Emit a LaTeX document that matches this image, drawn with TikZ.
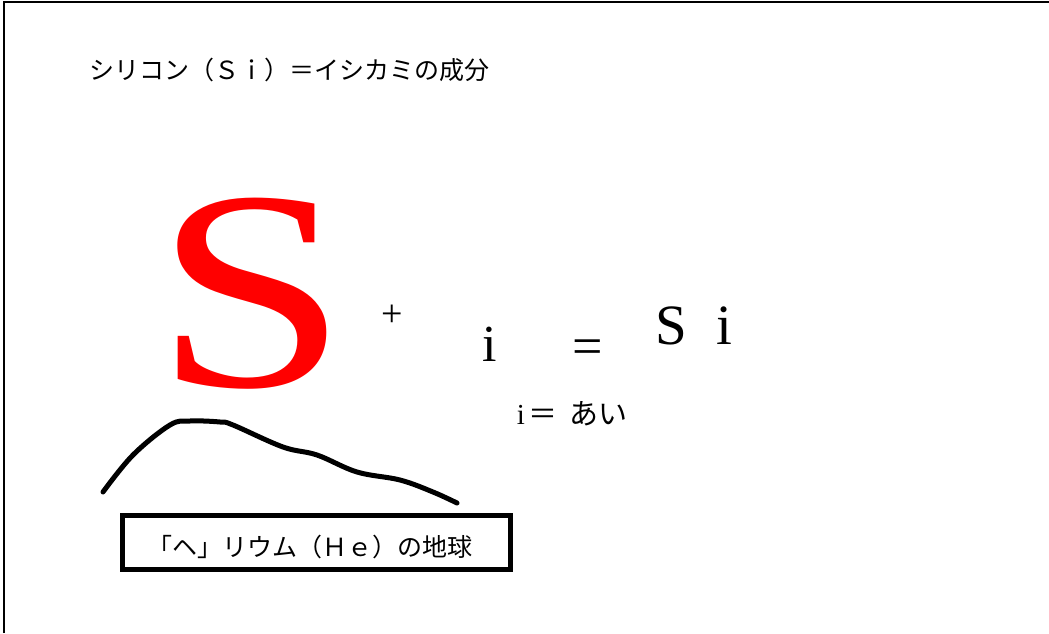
\documentclass[tikz,border=0pt]{standalone}
\usepackage{fontspec}
\setmainfont{Liberation Serif}
\newfontfamily\jp{Noto Sans CJK JP}
\usetikzlibrary{calc}

\begin{document}
\begin{tikzpicture}[x=1pt,y=1pt,
  jptext/.style={font=\jp\fontsize{25}{27}\selectfont,inner sep=0pt},
  sym/.style={inner sep=0pt}]
  \useasboundingbox (0,0) rectangle (1049,633);
  % frame: top and left edges only
  \draw[line width=2pt] (4,0) -- (4,631) -- (1049,631);
  \node[jptext] (title) at (289,563) {シリコン（Ｓｉ）＝イシカミの成分};
  % formula
  \node[sym,text=red,font=\fontsize{298}{300}\selectfont] (bigS) at (251,339) {\scalebox{1.17}[0.955]{S}};
  \node[sym,font=\fontsize{38}{40}\selectfont] (plus) at (392,317) {+};
  \node[sym,font=\fontsize{52}{54}\selectfont] (ichar) at (490,289) {i};
  \node[sym,font=\fontsize{54}{56}\selectfont] (eq) at (588,281) {=};
  \node[sym,font=\fontsize{57}{60}\selectfont] (si) at (694,307) {S\hspace{30pt}i};
  \node[sym,font=\fontsize{29}{31}\selectfont] (note) at (572,219) {i\hspace{3pt}{\jp ＝\hspace{12pt}あい}};
  % hand drawn curve and caption box
  \draw[line width=5pt,line cap=round,line join=round] plot[smooth,tension=0.6] coordinates {
    (103,141) (133,178) (170,208) (190,212) (220,211) (233,208) (283,186)
    (317,178) (357,161) (400,153) (433,141) (457,130)};
  \node[draw,line width=5pt,minimum width=388pt,minimum height=54pt] (earth) at (316.5,90.5) {};
  \node[jptext] (earthlabel) at (310,86) {「ヘ」リウム（Ｈｅ）の地球};
\end{tikzpicture}
\end{document}
